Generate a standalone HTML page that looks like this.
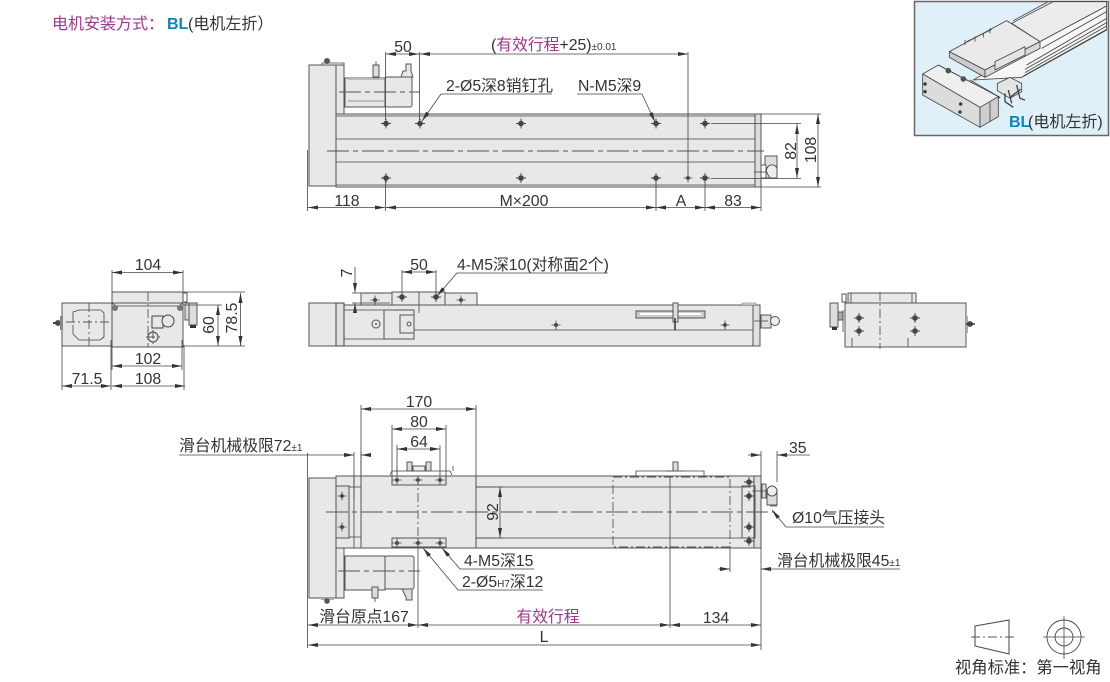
<!DOCTYPE html>
<html lang="zh">
<head>
<meta charset="utf-8">
<title>BL</title>
<style>
html,body{margin:0;padding:0;background:#fff;width:1110px;height:682px;overflow:hidden}
svg{display:block}
text{font-family:"Liberation Sans","Noto Sans CJK SC",sans-serif;font-size:15.8px;fill:#333}
.m{text-anchor:middle}
.l{fill:none;stroke:#444;stroke-width:.8}
.b{fill:#e8e8e8;stroke:#555;stroke-width:1}
.c{fill:none;stroke:#555;stroke-width:1;stroke-dasharray:22 4 5 4}
.g{fill:none;stroke:#555;stroke-width:.9;stroke-dasharray:9 3 2 3}
.a{fill:none;stroke:#444;stroke-width:.8;marker-start:url(#as);marker-end:url(#ae)}
.e{fill:none;stroke:#444;stroke-width:.8;marker-end:url(#ae)}
.s{fill:none;stroke:#444;stroke-width:.8;marker-start:url(#as)}
.p{fill:#a0368e}
.bl{fill:#0a85c2;font-weight:bold}
.t{font-size:10px}
</style>
</head>
<body>
<svg width="1110" height="682" viewBox="0 0 1110 682" xmlns="http://www.w3.org/2000/svg">
<defs>
<marker id="ae" markerUnits="userSpaceOnUse" markerWidth="10" markerHeight="5" refX="10" refY="2.5" orient="auto"><path d="M0 .5L10 2.5L0 4.500z" fill="#333"/></marker>
<marker id="as" markerUnits="userSpaceOnUse" markerWidth="10" markerHeight="5" refX="0" refY="2.5" orient="auto"><path d="M10 .5L0 2.5L10 4.500z" fill="#333"/></marker>
<g id="h"><circle r="2.8" fill="#444"/><path d="M-5 0H5M0-5V5" stroke="#444" stroke-width=".9"/></g>
<g id="hs"><circle r="2" fill="#555"/><path d="M-4.500 0H4.500M0-4.500V4.500" stroke="#444" stroke-width=".8"/></g>
</defs>

<!-- Title -->
<text x="52" y="29" class="p" style="font-size:16px">电机安装方式：</text>
<text x="167" y="29" class="bl" style="font-size:16px">BL</text>
<text x="188" y="29" style="font-size:16px">(电机左折）</text>

<!-- TOP VIEW -->
<rect x="309" y="65" width="27" height="121" class="b"/>
<path d="M336 65H344V114H336z" class="b"/>
<path d="M322 65V63H344V65" class="l"/>
<circle cx="327" cy="61" r="3" fill="#555"/>
<rect x="345" y="78" width="40" height="29" class="b"/>
<rect x="385" y="77" width="27" height="30" rx="2" class="b"/>
<rect x="348" y="78" width="36" height="2" fill="#bbb"/>
<rect x="348" y="100" width="36" height="2" fill="#bbb"/>
<rect x="373" y="65" width="6" height="12" fill="#ddd" stroke="#555"/>
<path d="M376 61V65" class="l"/>
<path d="M401 77L403 71H406V64H411V71L413 77z" fill="#e8e8e8" stroke="#555"/>
<path d="M339 92H420" class="c"/>
<rect x="336" y="114" width="419" height="73" class="b"/>
<rect x="755" y="114" width="6" height="73" fill="#ddd" stroke="#555"/>
<path d="M336 116H755M336 139H755M336 162H755M336 185H755" class="l"/>
<path d="M327 151H764" class="c"/>
<rect x="765" y="156" width="12" height="22" fill="#ddd" stroke="#555"/>
<rect x="761" y="165" width="5" height="13" fill="#fff" stroke="#555"/>
<path d="M767 173A5 5 0 0 1 777 168V178H770z" fill="#eee" stroke="#555"/>
<path d="M754 172H766" class="l"/>
<use href="#h" x="386" y="123.5"/><use href="#h" x="420" y="123.5"/><use href="#h" x="521" y="123.5"/><use href="#h" x="656" y="123.5"/><use href="#h" x="705" y="123.5"/>
<use href="#h" x="386" y="178"/><use href="#h" x="521" y="178"/><use href="#h" x="656" y="178"/><use href="#hs" x="688" y="178"/><use href="#h" x="705" y="178"/>

<path d="M385.500 52V120M419.500 52V120M688 52V176" class="l"/>
<path d="M386 54H419" class="a"/>
<path d="M420 54H688" class="a"/>
<text x="403" y="52" class="m">50</text>
<text x="491" y="50">(<tspan class="p">有效行程</tspan>+25)<tspan class="t">±0.01</tspan></text>
<text x="446" y="91">2-Ø5深8销钉孔</text>
<path d="M552 94H441L422 121" class="e"/>
<text x="578" y="91">N-M5深9</text>
<path d="M577 94H642L655 122" class="e"/>
<path d="M307.500 150V211M385.500 180V211M656 182V211M705 182V211M761 187V211" class="l"/>
<path d="M308 207.500H385" class="a"/><path d="M386 207.500H656" class="a"/><path d="M656 207.500H705" class="a"/><path d="M705 207.500H761" class="a"/>
<text x="347" y="206" class="m">118</text><text x="524" y="206" class="m">M×200</text><text x="681" y="206" class="m">A</text><text x="733" y="206" class="m">83</text>
<path d="M711 123.500H801M711 178.500H801M761 114H821M761 187H821" class="l"/>
<path d="M797 124V178" class="a"/>
<path d="M818 114V187" class="a"/>
<text transform="translate(796,151) rotate(-90)" class="m">82</text>
<text transform="translate(816,150) rotate(-90)" class="m">108</text>

<!-- LEFT END VIEW -->
<rect x="62" y="303" width="50" height="43" class="b"/>
<path d="M66 322H73V312L79 310H101L104 313V337L100 340H79L73 334V325" class="l"/>
<path d="M89 303V346M66 322H112" class="g"/>
<circle cx="58" cy="323" r="3" fill="#555"/><rect x="60" y="316" width="3" height="14" fill="#888"/>
<path d="M53 323H60" stroke="#444" stroke-width="2"/>
<rect x="112" y="292" width="71" height="11" class="b"/>
<rect x="112" y="303" width="71" height="44" class="b"/>
<path d="M112 303L116 306H179L183 303" class="l"/>
<circle cx="115" cy="308" r="3" fill="#777"/><circle cx="180" cy="308" r="3" fill="#777"/>
<rect x="152" y="316" width="11" height="12" fill="#e8e8e8" stroke="#444"/>
<circle cx="168" cy="321" r="6" fill="#e8e8e8" stroke="#444"/>
<circle cx="153" cy="337" r="5" fill="none" stroke="#444"/>
<path d="M153 330V344M146 337H160M148 292V347" class="g"/>
<rect x="183" y="293" width="4" height="9" fill="#fff" stroke="#555"/>
<rect x="185" y="303" width="4" height="17" fill="#ddd" stroke="#555"/>
<rect x="189" y="303" width="8" height="22" fill="#ddd" stroke="#555"/>
<rect x="190" y="325" width="6" height="3" fill="#333"/>
<path d="M112 270V292M183 270V292M62 346V390M111 340V390M112 345V370M182 340V370M184 345V390M183 292H245M183 305H222M183 346H245" class="l"/>
<path d="M112 272.500H183" class="a"/><text x="148" y="270" class="m">104</text>
<path d="M240.500 293V346" class="a"/><path d="M218 305V346" class="a"/>
<text transform="translate(214,325) rotate(-90)" class="m">60</text>
<text transform="translate(237,318) rotate(-90)" class="m">78.5</text>
<path d="M112 366H182" class="a"/><text x="148" y="364" class="m">102</text>
<path d="M112 386H185" class="a"/><text x="148" y="384" class="m">108</text>
<path d="M62 386H111" class="a"/><text x="87" y="384" class="m">71.5</text>

<!-- SIDE VIEW -->
<rect x="361" y="293" width="31" height="12" class="b"/>
<rect x="392" y="292" width="53" height="13" class="b"/>
<rect x="445" y="293" width="32" height="12" class="b"/>
<rect x="309" y="303" width="27" height="43" class="b"/>
<rect x="344" y="305" width="409" height="41" class="b"/>
<rect x="336" y="303" width="8" height="43" fill="#e0e0e0" stroke="#444"/>
<rect x="753" y="305" width="7" height="41" fill="#e0e0e0" stroke="#555"/>
<path d="M414 330H753M344 310H384M344 339H384" class="l"/>
<rect x="384" y="310" width="30" height="29" class="b"/>
<rect x="400" y="315" width="14" height="18" class="b"/>
<circle cx="409" cy="324" r="2" fill="none" stroke="#555"/>
<circle cx="376" cy="324" r="4" fill="none" stroke="#555"/><circle cx="376" cy="324" r="1" fill="#555"/>
<use href="#hs" x="375" y="300"/><use href="#h" x="402" y="297"/><use href="#h" x="436" y="297"/><use href="#hs" x="461" y="300"/><use href="#hs" x="556" y="325"/><use href="#hs" x="725" y="325"/>
<path d="M419 292V313" class="l"/>
<rect x="636" y="311" width="69" height="7" fill="#ccc" stroke="#555"/>
<rect x="640" y="313" width="61" height="2" fill="#fff"/>
<rect x="673" y="303" width="5" height="19" fill="#ddd" stroke="#555"/>
<path d="M675 318V330" stroke="#333" stroke-width="1.500"/>
<rect x="742" y="303" width="14" height="2" fill="#ddd" stroke="#666" stroke-width=".5"/>
<rect x="761" y="315" width="10" height="13" fill="#ddd" stroke="#555"/>
<circle cx="775" cy="321" r="4.500" fill="#eee" stroke="#555"/>
<path d="M754 321H768" class="l"/>
<path d="M402 270V292M436 270V292M352 293H390M352 303H390" class="l"/>
<path d="M402 272H436" class="a"/><text x="419" y="270" class="m">50</text>
<path d="M355 267V293" class="e"/><path d="M355 313V303" class="e"/>
<text transform="translate(352,273) rotate(-90)" class="m">7</text>
<text x="457" y="270">4-M5深10(对称面2个)</text>
<path d="M608 273H457L437 296" class="e"/>

<!-- RIGHT END VIEW -->
<rect x="848" y="293" width="68" height="10" class="b"/>
<rect x="845" y="303" width="121" height="44" class="b"/>
<path d="M851 293V303M912 293V303M852 338V347M908 338V347" class="l"/>
<path d="M880 292V349" class="g"/>
<rect x="842" y="294" width="4" height="8" fill="#fff" stroke="#555"/>
<rect x="830" y="303" width="8" height="24" fill="#ddd" stroke="#555"/>
<rect x="832" y="327" width="5" height="3" fill="#333"/>
<rect x="838" y="312" width="5" height="8" fill="#aaa" stroke="#555"/>
<path d="M843 310V332" class="l"/>
<use href="#h" x="859" y="318"/><use href="#h" x="859" y="331"/><use href="#h" x="915" y="318"/><use href="#h" x="915" y="331"/>
<rect x="966" y="316" width="2" height="17" fill="#aaa"/>
<circle cx="970" cy="324" r="3" fill="#555"/><path d="M966 324H975" stroke="#333" stroke-width="1.500"/>

<!-- BOTTOM VIEW -->
<rect x="309" y="478" width="27" height="120" class="b"/>
<rect x="336" y="548" width="8" height="50" class="b"/>
<rect x="321" y="598" width="13" height="2" fill="#aaa"/>
<circle cx="327" cy="601" r="2.800" fill="#555"/>
<rect x="336" y="476" width="425" height="72" class="b"/>
<path d="M361 487H751M361 538H751" class="l"/>
<rect x="754" y="476" width="7" height="72" fill="#ddd" stroke="#555"/>
<rect x="742" y="486" width="13" height="52" fill="none" stroke="#555"/>
<rect x="336" y="486" width="13" height="52" fill="#e0e0e0" stroke="#555"/>
<path d="M349 487H361M349 537H361" class="l"/>
<rect x="361" y="476" width="115" height="72" fill="#e8e8e8" stroke="#555"/>
<path d="M354 476V548" class="l"/>
<rect x="392" y="476" width="54" height="9" fill="#e4e4e4" stroke="#555"/>
<rect x="392" y="538" width="54" height="9" fill="#e4e4e4" stroke="#555"/>
<use href="#hs" x="342" y="496"/><use href="#hs" x="342" y="527"/>
<use href="#hs" x="397" y="480"/><use href="#hs" x="418" y="480"/><use href="#hs" x="440" y="480"/>
<use href="#hs" x="397" y="543"/><use href="#hs" x="418" y="543"/><use href="#hs" x="440" y="543"/>
<use href="#h" x="749" y="482"/><use href="#h" x="749" y="496"/><use href="#h" x="749" y="527"/><use href="#h" x="749" y="541"/>
<path d="M326 512H775" class="c"/>
<path d="M418 476V548" class="g"/>
<rect x="613" y="477" width="117" height="70" class="g"/>
<path d="M670 477V628" class="l"/>
<path d="M390 475L392 471H450L452 475M397 471V466M453 471V466" class="l"/>
<rect x="407" y="462" width="5" height="9" fill="#ddd" stroke="#555"/><rect x="426" y="462" width="5" height="9" fill="#ddd" stroke="#555"/>
<rect x="413" y="466" width="12" height="5" fill="#eee" stroke="#555"/>
<path d="M636 476V471H704V476" class="l"/>
<path d="M666 471H684" class="l"/><rect x="673" y="462" width="5" height="9" fill="#ddd" stroke="#555"/>
<rect x="345" y="556" width="40" height="34" class="b"/>
<rect x="385" y="556" width="29" height="33" rx="2" class="b"/>
<path d="M338 571H420" class="c"/>
<rect x="372" y="587" width="6" height="11" fill="#ddd" stroke="#555"/><path d="M375 598V602" class="l"/>
<path d="M402 589L406 597V600H412V589z" fill="#ddd" stroke="#555"/>
<rect x="762" y="484" width="4" height="14" fill="#ddd" stroke="#555"/>
<rect x="767" y="490" width="10" height="15" fill="#ddd" stroke="#555"/>
<circle cx="772" cy="491" r="5" fill="#eee" stroke="#555"/>
<path d="M752 491H768M770 506H777" class="l"/>
<path d="M361 405V476M476 405V476M392 425V476M446 425V476M397 445V476M440 445V476" class="l"/>
<path d="M361 409H476" class="a"/><text x="419" y="407" class="m">170</text>
<path d="M392 429H446" class="a"/><text x="419" y="427" class="m">80</text>
<path d="M397 449H440" class="a"/><text x="419" y="447" class="m">64</text>
<text x="179" y="451">滑台机械极限72<tspan class="t">±1</tspan></text>
<path d="M179 455H354" class="e"/><path d="M361 455H368" class="s"/>
<path d="M307.500 453V648M354 452V500M361 452V476M418 548V628" class="l"/>
<path d="M476 487H503M476 538H503" class="l"/>
<path d="M500 487V538" class="a"/>
<text transform="translate(498,512) rotate(-90)" class="m">92</text>
<path d="M761 451V476M777 451V482" class="l"/>
<path d="M748 455H761" class="e"/><path d="M777 455H810" class="s"/>
<text x="789" y="453">35</text>
<text x="792" y="523">Ø10气压接头</text>
<path d="M884 527H786L772 510" class="e"/>
<text x="777" y="566">滑台机械极限45<tspan class="t">±1</tspan></text>
<path d="M718 569H730" class="e"/><path d="M761 569H900" class="s"/>
<path d="M730 546V572M761 548V650" class="l"/>
<text x="464" y="566">4-M5深15</text>
<path d="M534 569H460L442 548" class="e"/>
<text x="462" y="587">2-Ø5<tspan class="t">H7</tspan>深12</text>
<path d="M543 590H458L423 548" class="e"/>
<path d="M308 625H418" class="a"/><text x="364" y="622" class="m">滑台原点167</text>
<path d="M418 625H670" class="a"/><text x="548" y="622" class="m p">有效行程</text>
<path d="M670 625H761" class="a"/><text x="716" y="623" class="m">134</text>
<path d="M308 645H761" class="a"/><text x="544" y="642" class="m">L</text>

<!-- INSET -->
<rect x="914.500" y="1.500" width="194" height="134" fill="#dff0f8" stroke="#666" stroke-width="1.500"/>
<g transform="translate(910,0) scale(.3333)" stroke="#444" stroke-width="2.500" stroke-linejoin="round">
<path d="M305 70L430 5H590V18L390 125z" fill="#ececec"/>
<path d="M390 125L590 18V90L335 232L190 240z" fill="#f6f6f6"/>
<path d="M415 5L310 62M590 35L395 145M590 55L350 195M590 68L345 208M590 78L345 218M590 88L340 228" fill="none"/>
<path d="M38 222L85 195L270 292L210 322z" fill="#efefef"/>
<path d="M38 222V285L210 382V322z" fill="#dcdcdc"/>
<path d="M210 322L265 290V350L210 382z" fill="#cfcfcf"/>
<path d="M240 307V365" fill="none"/>
<path d="M180 240L270 292M85 195L190 250" fill="none"/>
<circle cx="115" cy="212" r="7" fill="#555"/><circle cx="160" cy="237" r="7" fill="#555"/>
<path d="M118 155L290 62L390 125L225 210z" fill="#eaeaea"/>
<path d="M118 155V172L225 232V210z" fill="#ccc"/>
<path d="M225 210L390 125V145L225 232z" fill="#d8d8d8"/>
<path d="M255 185L345 140V165L255 210z" fill="#e4e4e4"/>
<path d="M170 125L245 88M165 120V135M195 110V125M220 100V112M240 85V100" fill="none"/>
<circle cx="45" cy="252" r="4" fill="#333"/><circle cx="45" cy="275" r="4" fill="#333"/><circle cx="152" cy="312" r="4" fill="#333"/><circle cx="150" cy="336" r="4" fill="#333"/>
<path d="M262 250L300 232L335 250V275L300 295L262 272z" fill="#e4e4e4"/>
<path d="M285 280V305L310 322M295 270L305 310M320 255L330 295L345 300M300 292L332 268" fill="none" stroke-width="4"/>
</g>
<text x="1009" y="127" class="bl" style="font-size:16px">BL</text><text x="1028" y="127" style="font-size:16px">(电机左折)</text>

<!-- PROJECTION SYMBOL -->
<path d="M975 626L1009 620V654L975 646z" fill="#fff" stroke="#444" stroke-width="1"/>
<path d="M971 637H1014" class="g"/>
<circle cx="1064" cy="637" r="17" fill="none" stroke="#444" stroke-width=".9"/>
<circle cx="1064" cy="637" r="9" fill="none" stroke="#444" stroke-width=".9"/>
<path d="M1043 637H1085M1064 616V659" class="l"/>
<text x="955" y="673" style="font-size:16.3px">视角标准：第一视角</text>
</svg>
</body>
</html>
